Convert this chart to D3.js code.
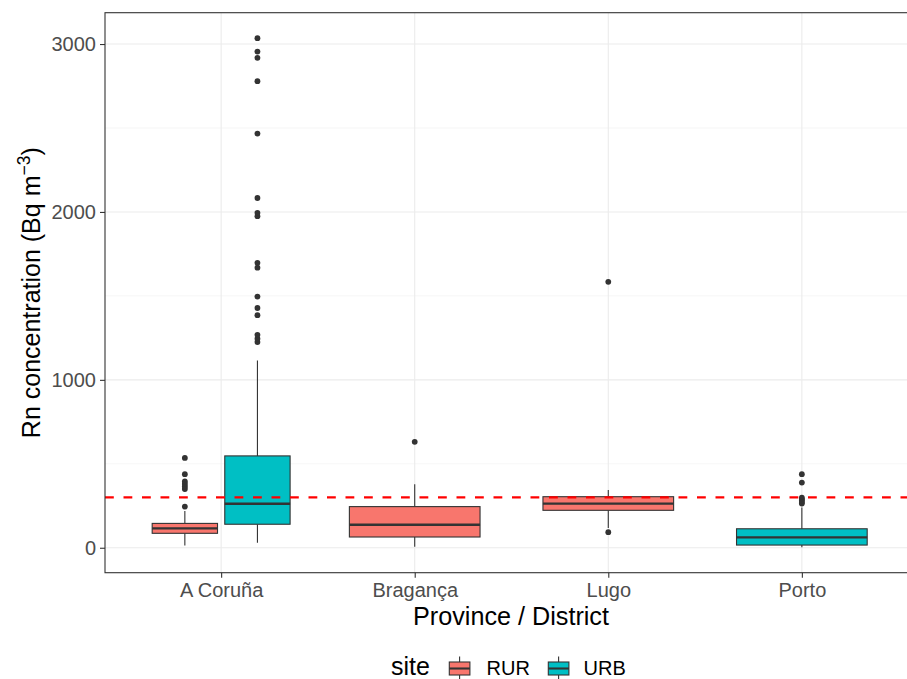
<!DOCTYPE html>
<html>
<head>
<meta charset="utf-8">
<script src="https://cdn.jsdelivr.net/npm/d3@7"></script>
<style>
  html, body { margin: 0; padding: 0; background: #ffffff; }
  svg { display: block; font-family: "Liberation Sans", Arial, sans-serif; }
</style>
</head>
<body>
<script>
// Radon concentration by province / district and site type (box plot statistics)
const provinces = ["A Coruña", "Bragança", "Lugo", "Porto"];
const sites = ["RUR", "URB"];
const siteColours = ["#F8766D", "#00BFC4"];

// one entry per box
const boxProvince   = ["A Coruña", "A Coruña", "Bragança", "Lugo", "Porto"];
const boxSite       = ["RUR", "URB", "RUR", "RUR", "URB"];
const lowerWhisker  = [14, 30, 6, 117, 3];
const lowerHinge    = [86, 140, 64, 223, 16];
const medians       = [115, 262, 137, 263, 62];
const upperHinge    = [145, 547, 245, 304, 113];
const upperWhisker  = [219, 1115, 378, 344, 240];
const outliers = [
  [245, 350, 365, 380, 395, 438, 535],
  [1225, 1245, 1268, 1385, 1428, 1496, 1668, 1697, 1975, 1995, 2083, 2467, 2779, 2918, 2955, 3035],
  [631],
  [93, 1584],
  [263, 272, 281, 290, 298, 388, 438]
];

const yTicks = [0, 1000, 2000, 3000];
const referenceLevel = 300;

const W = 907, H = 679;
const panel = { left: 105, top: 12.7, right: 918, bottom: 572.7 };

const svg = d3.select("body").append("svg").attr("width", W).attr("height", H);

// scales
const allValues = [...lowerWhisker, ...upperWhisker, ...outliers.flat()];
const lo = d3.min(allValues), hi = d3.max(allValues), pad = (hi - lo) * 0.05;
const y = d3.scaleLinear().domain([lo - pad, hi + pad]).range([panel.bottom, panel.top]);
const x = d3.scalePoint().domain(provinces).range([panel.left, panel.right]).padding(0.6);
const colour = d3.scaleOrdinal().domain(sites).range(siteColours);
const step = x.step();

svg.append("clipPath").attr("id", "panel-clip")
  .append("rect")
  .attr("x", panel.left).attr("y", panel.top)
  .attr("width", panel.right - panel.left).attr("height", panel.bottom - panel.top);

const plot = svg.append("g").attr("clip-path", "url(#panel-clip)");

// grid: minor lines halfway between major ticks
const minor = d3.pairs(yTicks).map(([a, b]) => (a + b) / 2);
plot.append("g").selectAll("line").data(minor).join("line")
  .attr("x1", panel.left).attr("x2", panel.right)
  .attr("y1", d => y(d)).attr("y2", d => y(d))
  .attr("stroke", "#f2f2f2").attr("stroke-width", 0.7);
plot.append("g").selectAll("line").data(yTicks).join("line")
  .attr("x1", panel.left).attr("x2", panel.right)
  .attr("y1", d => y(d)).attr("y2", d => y(d))
  .attr("stroke", "#ebebeb").attr("stroke-width", 1.1);
plot.append("g").selectAll("line").data(provinces).join("line")
  .attr("x1", d => x(d)).attr("x2", d => x(d))
  .attr("y1", panel.top).attr("y2", panel.bottom)
  .attr("stroke", "#ebebeb").attr("stroke-width", 1.1);

// box geometry with dodging of boxes sharing a province
const boxes = boxProvince.map((p, i) => {
  const group = boxProvince.map((q, j) => q === p ? j : -1).filter(j => j >= 0);
  const n = group.length, idx = group.indexOf(i);
  const slot = 0.75 * step / n;
  return {
    province: p, site: boxSite[i],
    cx: x(p) + (idx - (n - 1) / 2) * slot,
    w: slot * 0.9,
    lw: lowerWhisker[i], q1: lowerHinge[i], med: medians[i],
    q3: upperHinge[i], uw: upperWhisker[i], out: outliers[i]
  };
});

const ink = "#333333";
const bg = plot.append("g").selectAll("g").data(boxes).join("g");

// whiskers
bg.append("line")
  .attr("x1", d => d.cx).attr("x2", d => d.cx)
  .attr("y1", d => y(d.q3)).attr("y2", d => y(d.uw))
  .attr("stroke", ink).attr("stroke-width", 1.1);
bg.append("line")
  .attr("x1", d => d.cx).attr("x2", d => d.cx)
  .attr("y1", d => y(d.q1)).attr("y2", d => y(d.lw))
  .attr("stroke", ink).attr("stroke-width", 1.1);
// boxes
bg.append("rect")
  .attr("x", d => d.cx - d.w / 2).attr("width", d => d.w)
  .attr("y", d => y(d.q3)).attr("height", d => y(d.q1) - y(d.q3))
  .attr("fill", d => colour(d.site))
  .attr("stroke", ink).attr("stroke-width", 1.1);
// medians
bg.append("line")
  .attr("x1", d => d.cx - d.w / 2).attr("x2", d => d.cx + d.w / 2)
  .attr("y1", d => y(d.med)).attr("y2", d => y(d.med))
  .attr("stroke", ink).attr("stroke-width", 2.3);
// outliers
bg.selectAll("circle").data(d => d.out.map(v => ({ cx: d.cx, v }))).join("circle")
  .attr("cx", d => d.cx).attr("cy", d => y(d.v)).attr("r", 2.9)
  .attr("fill", ink);

// reference level
plot.append("line")
  .attr("x1", panel.left).attr("x2", panel.right)
  .attr("y1", y(referenceLevel)).attr("y2", y(referenceLevel))
  .attr("stroke", "#ff0000").attr("stroke-width", 2.3)
  .attr("stroke-dasharray", "8.8,9.7");

// panel border
svg.append("rect")
  .attr("x", panel.left).attr("y", panel.top)
  .attr("width", panel.right - panel.left).attr("height", panel.bottom - panel.top)
  .attr("fill", "none").attr("stroke", ink).attr("stroke-width", 1.1);

// axes
const tickFont = 20;
const yAxis = svg.append("g").attr("transform", `translate(${panel.left},0)`)
  .call(d3.axisLeft(y).tickValues(yTicks).tickSize(5).tickPadding(4).tickFormat(d3.format("d")));
const xAxis = svg.append("g").attr("transform", `translate(0,${panel.bottom})`)
  .call(d3.axisBottom(x).tickSize(5).tickPadding(5.2));
[yAxis, xAxis].forEach(a => {
  a.select(".domain").remove();
  a.selectAll(".tick line").attr("stroke", ink).attr("stroke-width", 1.1);
  a.selectAll(".tick text").attr("fill", "#4d4d4d")
    .style("font-size", tickFont + "px")
    .style("font-family", "'Liberation Sans', Arial, sans-serif");
});

// axis titles
svg.append("text")
  .attr("x", 511).attr("y", 625)
  .attr("text-anchor", "middle").attr("fill", "#000")
  .style("font-size", "25.2px")
  .text("Province / District");

const yTitle = svg.append("text")
  .attr("transform", `translate(40,${(panel.top + panel.bottom) / 2}) rotate(-90)`)
  .attr("text-anchor", "middle").attr("fill", "#000")
  .style("font-size", "25px");
yTitle.append("tspan").text("Rn concentration (Bq m");
yTitle.append("tspan").attr("dy", -10).style("font-size", "17.5px").text("\u22123");
yTitle.append("tspan").attr("dy", 10).text(")");

// legend
const legend = svg.append("g");
legend.append("text").attr("x", 391).attr("y", 675)
  .attr("fill", "#000").style("font-size", "25px").text("site");
const keyX = [449.3, 548.3], labelX = [486.5, 583.5];
const keys = legend.selectAll("g.key").data(sites).join("g").attr("class", "key");
keys.append("line")
  .attr("x1", (d, i) => keyX[i] + 10.3).attr("x2", (d, i) => keyX[i] + 10.3)
  .attr("y1", 656.5).attr("y2", 680)
  .attr("stroke", ink).attr("stroke-width", 1.1);
keys.append("rect")
  .attr("x", (d, i) => keyX[i]).attr("y", 662).attr("width", 20.6).attr("height", 13)
  .attr("fill", d => colour(d)).attr("stroke", ink).attr("stroke-width", 1.1);
keys.append("line")
  .attr("x1", (d, i) => keyX[i]).attr("x2", (d, i) => keyX[i] + 20.6)
  .attr("y1", 668.5).attr("y2", 668.5)
  .attr("stroke", ink).attr("stroke-width", 2.1);
keys.append("text")
  .attr("x", (d, i) => labelX[i]).attr("y", 675)
  .attr("fill", "#000").style("font-size", tickFont + "px")
  .text(d => d);
</script>
</body>
</html>
